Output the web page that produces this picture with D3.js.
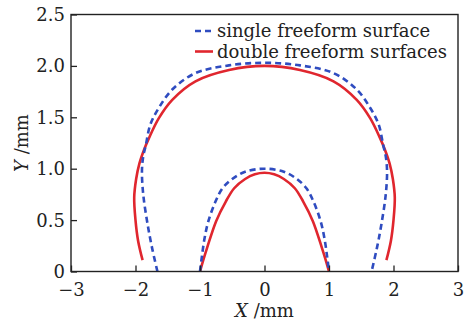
<!DOCTYPE html>
<html lang="en">
<head>
<meta charset="UTF-8">
<title>freeform surfaces</title>
<script src="https://d3js.org/d3.v7.min.js"></script>
<style>
  body { margin: 0; background: #fff; }
  text { font-family: "DejaVu Serif", serif; fill: #222; }
</style>
</head>
<body>
<div id="chart"></div>
<script>
// ticks
var xTicks = [-3, -2, -1, 0, 1, 2, 3]
var xTickLabels = ["\u22123", "\u22122", "\u22121", "0", "1", "2", "3"]
var yTicks = [0, 0.5, 1.0, 1.5, 2.0, 2.5]
var yTickLabels = ["0", "0.5", "1.0", "1.5", "2.0", "2.5"]

var seriesNames = ["single freeform surface", "double freeform surfaces"]

// single freeform surface (blue dashed), outer and inner curves
var singleOuterX = [-1.66, -1.74, -1.81, -1.88, -1.90, -1.88, -1.84, -1.77, -1.64, -1.43, -1.07, -0.55, 0, 0.55, 1.07, 1.43, 1.64, 1.77, 1.84, 1.88, 1.90, 1.88, 1.81, 1.74, 1.66]
var singleOuterY = [0.0, 0.22, 0.45, 0.75, 0.98, 1.12, 1.23, 1.43, 1.59, 1.77, 1.93, 2.005, 2.03, 2.005, 1.93, 1.77, 1.59, 1.43, 1.23, 1.12, 0.98, 0.75, 0.45, 0.22, 0.0]
var singleInnerX = [-1, -0.97, -0.93, -0.87, -0.76, -0.65, -0.5, -0.3, 0, 0.3, 0.5, 0.65, 0.76, 0.87, 0.93, 0.97, 1]
var singleInnerY = [0, 0.15, 0.32, 0.49, 0.68, 0.81, 0.90, 0.97, 1.0, 0.97, 0.90, 0.81, 0.68, 0.49, 0.32, 0.15, 0]

// double freeform surfaces (red solid)
var doubleOuterX = [-1.89, -1.96, -2.0, -2.02, -1.99, -1.94, -1.87, -1.79, -1.64, -1.43, -1.07, -0.55, 0, 0.55, 1.07, 1.43, 1.64, 1.79, 1.87, 1.94, 1.99, 2.02, 2.0, 1.96, 1.89]
var doubleOuterY = [0.11, 0.30, 0.50, 0.72, 0.90, 1.05, 1.18, 1.30, 1.49, 1.67, 1.85, 1.96, 2.0, 1.96, 1.85, 1.67, 1.49, 1.30, 1.18, 1.05, 0.90, 0.72, 0.50, 0.30, 0.11]
var doubleInnerX = [-1, -0.94, -0.89, -0.75, -0.6, -0.47, -0.3, -0.15, 0, 0.15, 0.3, 0.47, 0.6, 0.75, 0.89, 0.94, 1]
var doubleInnerY = [0, 0.13, 0.23, 0.49, 0.68, 0.81, 0.90, 0.945, 0.96, 0.945, 0.90, 0.81, 0.68, 0.49, 0.23, 0.13, 0]

var blue = "#2f4cc0", red = "#e0262e"

var W = 468, H = 324
var margin = {top: 14.5, right: 10, bottom: 52.5, left: 71}
var width = W - margin.left - margin.right
var height = H - margin.top - margin.bottom

var svg = d3.select("#chart").append("svg")
    .attr("width", W).attr("height", H)

var g = svg.append("g")
    .attr("transform", "translate(" + margin.left + "," + margin.top + ")")

var x = d3.scaleLinear().domain([-3, 3]).range([0, width])
var y = d3.scaleLinear().domain([0, 2.5]).range([height, 0])

function pts(xs, ys) { return xs.map(function(v, i) { return [v, ys[i]] }) }

var line = d3.line()
    .x(function(d) { return x(d[0]) })
    .y(function(d) { return y(d[1]) })
    .curve(d3.curveCatmullRom.alpha(0.5))

var curves = [
  {d: pts(doubleOuterX, doubleOuterY), color: red, dash: null},
  {d: pts(doubleInnerX, doubleInnerY), color: red, dash: null},
  {d: pts(singleOuterX, singleOuterY), color: blue, dash: "6,4"},
  {d: pts(singleInnerX, singleInnerY), color: blue, dash: "6,4"}
]

g.selectAll("path.curve")
  .data(curves)
  .enter().append("path")
    .attr("class", "curve")
    .attr("d", function(c) { return line(c.d) })
    .attr("fill", "none")
    .attr("stroke", function(c) { return c.color })
    .attr("stroke-width", 2.6)
    .attr("stroke-dasharray", function(c) { return c.dash })

// axes, ticks pointing inward
var xAxis = g.append("g")
    .attr("transform", "translate(0," + height + ")")
    .call(d3.axisBottom(x).tickValues(xTicks).tickSizeInner(-6).tickSizeOuter(0)
      .tickPadding(12).tickFormat(function(d, i) { return xTickLabels[i] }))
var yAxis = g.append("g")
    .call(d3.axisLeft(y).tickValues(yTicks).tickSizeInner(-6).tickSizeOuter(0)
      .tickPadding(6).tickFormat(function(d, i) { return yTickLabels[i] }))

;[xAxis, yAxis].forEach(function(a) {
  a.select(".domain").remove()
  a.selectAll("line").attr("stroke", "#222").attr("stroke-width", 1.3)
  a.selectAll("text").style("font-family", "DejaVu Serif, serif")
    .style("font-size", "18px").attr("fill", "#222")
})
yAxis.selectAll("text").attr("dy", "0.33em")

g.append("rect")
    .attr("width", width).attr("height", height)
    .attr("fill", "none").attr("stroke", "#222").attr("stroke-width", 1.4)

// axis titles
var xt = svg.append("text")
    .attr("x", margin.left + x(0)).attr("y", 317)
    .attr("text-anchor", "middle").style("font-size", "18px")
xt.append("tspan").style("font-style", "italic").text("X")
xt.append("tspan").text(" /mm")

var yt = svg.append("text")
    .attr("transform", "translate(28," + (margin.top + height / 2) + ") rotate(-90)")
    .attr("text-anchor", "middle").style("font-size", "18px")
yt.append("tspan").style("font-style", "italic").text("Y")
yt.append("tspan").text(" /mm")

// legend
var legend = svg.append("g")
var legItems = [{name: seriesNames[0], color: blue, dash: "6,4"},
                {name: seriesNames[1], color: red, dash: null}]
legItems.forEach(function(it, i) {
  var ly = 31 + i * 20.5
  legend.append("line")
    .attr("x1", 195).attr("x2", 213).attr("y1", ly).attr("y2", ly)
    .attr("stroke", it.color).attr("stroke-width", 2.6)
    .attr("stroke-dasharray", it.dash)
  legend.append("text")
    .attr("x", 217).attr("y", ly).attr("dy", "0.35em")
    .style("font-size", "18px").text(it.name)
})
</script>
</body>
</html>
